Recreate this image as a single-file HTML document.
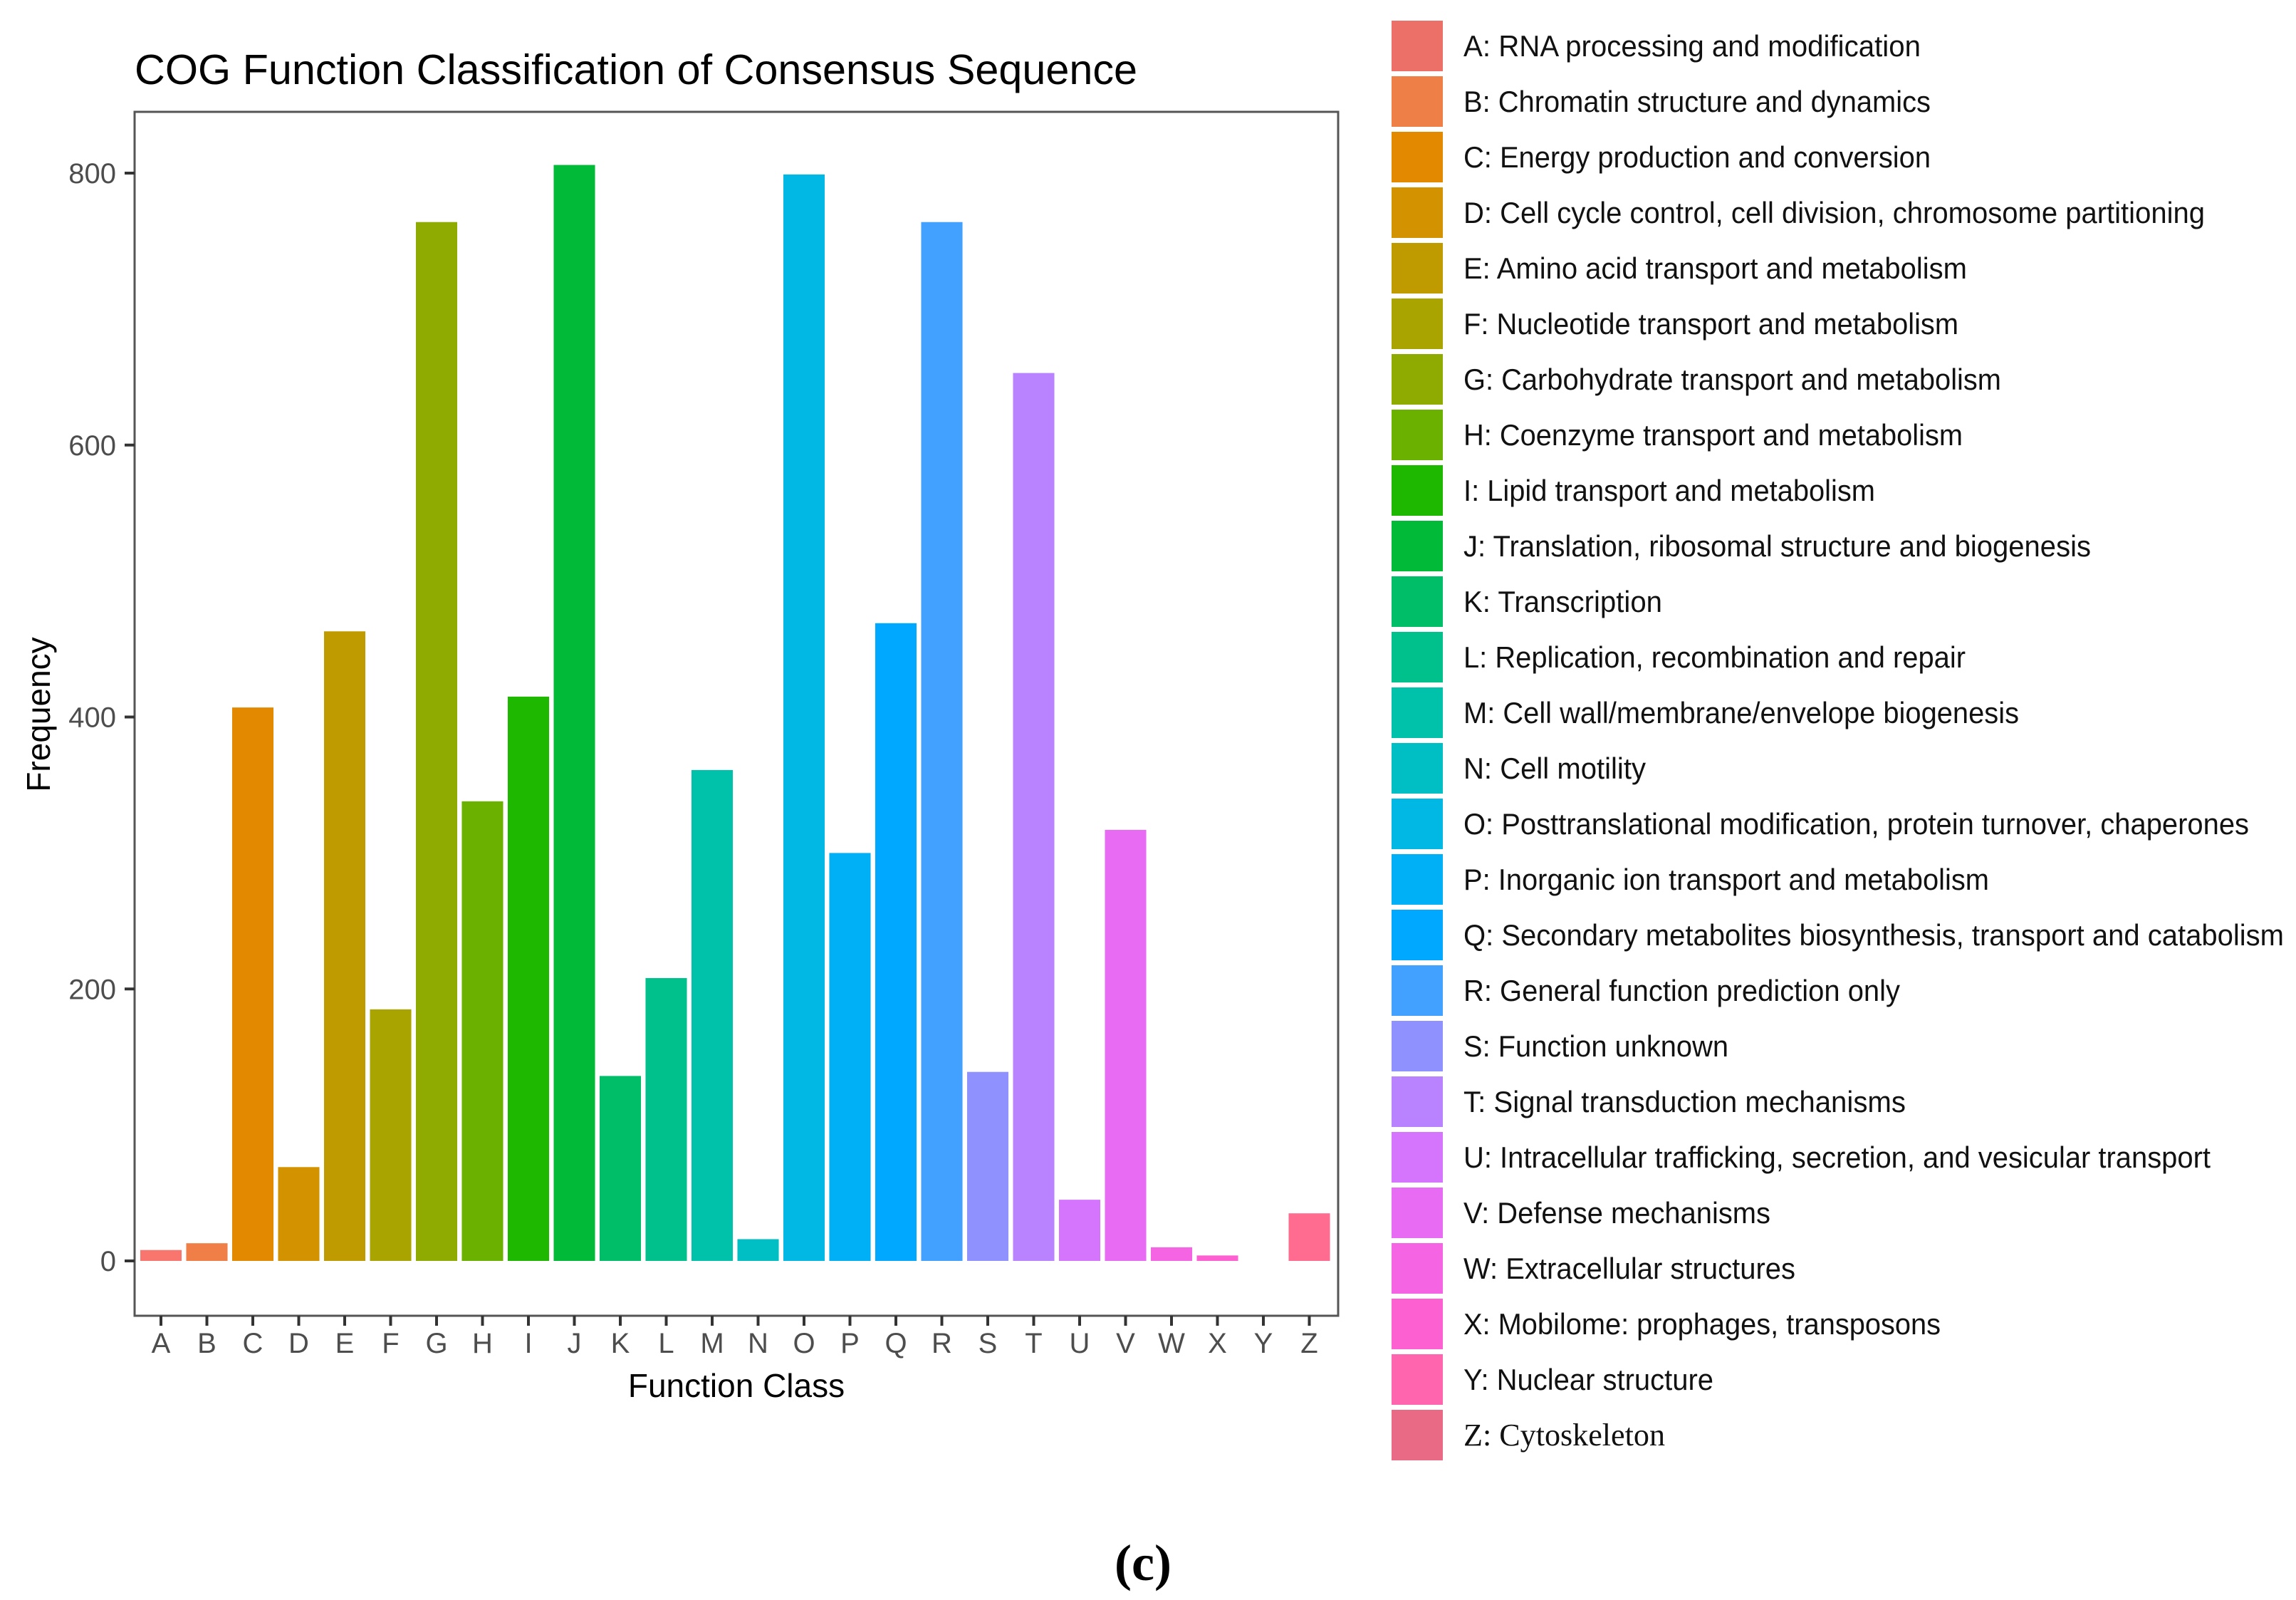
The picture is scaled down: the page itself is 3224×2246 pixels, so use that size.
<!DOCTYPE html>
<html><head><meta charset="utf-8"><style>
html,body{margin:0;padding:0;background:#fff;}
svg{display:block;}
text{font-family:"Liberation Sans",sans-serif;}
text.serif{font-family:"Liberation Serif",serif;}
</style></head><body>
<svg id="chart" width="3224" height="2246" viewBox="0 0 3224 2246" xmlns="http://www.w3.org/2000/svg">
<rect width="3224" height="2246" fill="#fff"/>
<text x="189" y="118" font-size="59" fill="#000" textLength="1408" lengthAdjust="spacingAndGlyphs">COG Function Classification of Consensus Sequence</text>
<rect x="189" y="157" width="1690" height="1690" fill="none" stroke="#555" stroke-width="3"/>
<g id="bars"></g><g id="yaxis"></g><g id="xaxis"></g><g id="legend"></g>
<text transform="translate(70,1003) rotate(-90)" text-anchor="middle" font-size="46" fill="#000">Frequency</text>
<text x="1034" y="1961" text-anchor="middle" font-size="46" fill="#000">Function Class</text>
<text class="serif" x="1605" y="2218" text-anchor="middle" font-size="72" font-weight="bold" fill="#000">(c)</text>
</svg>
<script>
const categories = ["A","B","C","D","E","F","G","H","I","J","K","L","M","N","O","P","Q","R","S","T","U","V","W","X","Y","Z"];
const frequencies = [8,13,407,69,463,185,764,338,415,806,136,208,361,16,799,300,469,764,139,653,45,317,10,4,0,35];
const colors = ["#F8766D","#EF7F46","#E38900","#D39200","#C09B00","#A9A400","#8FAA00","#6BB100","#1FB800","#00BA38","#00BE67","#00C08B","#00C1A9","#00BFC4","#00B8E3","#00B0F6","#00A9FF","#42A0FF","#8F91FF","#B983FF","#D575FE","#E76BF3","#F564E3","#FD61D1","#FF65AE","#FF6C90"];
const legendColors = ["#EC7068","#EE7F46","#E28900","#D39200","#C09B00","#A9A400","#8FAA00","#6BB100","#1FB800","#00BA38","#00BE67","#00C08B","#00C1A9","#00BFC4","#00B8E3","#00B0F6","#00A9FF","#42A0FF","#8F91FF","#B983FF","#D575FE","#E76BF3","#F564E3","#FD61D1","#FF65AE","#E86A85"];
const legendLabels = ["A: RNA processing and modification","B: Chromatin structure and dynamics","C: Energy production and conversion","D: Cell cycle control, cell division, chromosome partitioning","E: Amino acid transport and metabolism","F: Nucleotide transport and metabolism","G: Carbohydrate transport and metabolism","H: Coenzyme transport and metabolism","I: Lipid transport and metabolism","J: Translation, ribosomal structure and biogenesis","K: Transcription","L: Replication, recombination and repair","M: Cell wall/membrane/envelope biogenesis","N: Cell motility","O: Posttranslational modification, protein turnover, chaperones","P: Inorganic ion transport and metabolism","Q: Secondary metabolites biosynthesis, transport and catabolism","R: General function prediction only","S: Function unknown","T: Signal transduction mechanisms","U: Intracellular trafficking, secretion, and vesicular transport","V: Defense mechanisms","W: Extracellular structures","X: Mobilome: prophages, transposons","Y: Nuclear structure","Z: Cytoskeleton"];
const legendEnds = [2697,2711,2711,3096,2762,2750,2810,2756,2633,2936,2334,2760,2835,2311,3158,2793,3207,2668,2427,2676,3104,2486,2521,2725,2406,2338];
const yTicks = [0,200,400,600,800];

const NS="http://www.w3.org/2000/svg";
function mk(t,a,p){const e=document.createElementNS(NS,t);for(const k in a)e.setAttribute(k,a[k]);p.appendChild(e);return e;}
const y0=1770, pxPerUnit=(1770-243)/800;
function yScale(v){return y0-v*pxPerUnit;}
const step=64.5, x0=226;
function xScale(i){return x0+i*step;}
const bw=step*0.9;

const gb=document.getElementById('bars');
categories.forEach((c,i)=>{
  const v=frequencies[i];
  const r=mk('rect',{x:xScale(i)-bw/2,y:yScale(v),width:bw,height:Math.max(0,y0-yScale(v)),fill:colors[i]},gb);
  
  
});
const gy=document.getElementById('yaxis');
yTicks.forEach(t=>{
  const y=yScale(t);
  const l=mk('line',{x1:175,x2:189,y1:y,y2:y,stroke:'#333','stroke-width':4},gy);
  
  
  const tx=mk('text',{x:163,y:y+14,'text-anchor':'end','font-size':40,fill:'#4d4d4d'},gy);
  tx.textContent=t;
  
  
});
const gx=document.getElementById('xaxis');
categories.forEach((c,i)=>{
  const x=xScale(i);
  const l=mk('line',{x1:x,x2:x,y1:1847,y2:1861,stroke:'#333','stroke-width':4},gx);
  
  
  const tx=mk('text',{x:x,y:1899,'text-anchor':'middle','font-size':40,fill:'#4d4d4d'},gx);
  tx.textContent=c;
  
  
});
const gl=document.getElementById('legend');
legendLabels.forEach((lab,i)=>{
  const top=29+i*78;
  const g=mk('g',{},gl);
  
  
  mk('rect',{x:1954,y:top,width:72,height:71,fill:legendColors[i]},g);
  const isZ=i===25;
  const tx=mk('text',{x:2055,y:top+50,'font-size':isZ?44:42,fill:'#111',textLength:legendEnds[i]-2055,lengthAdjust:'spacingAndGlyphs'},g);
  if(isZ) tx.setAttribute('class','serif');
  tx.textContent=lab;
});
</script>
</body></html>
